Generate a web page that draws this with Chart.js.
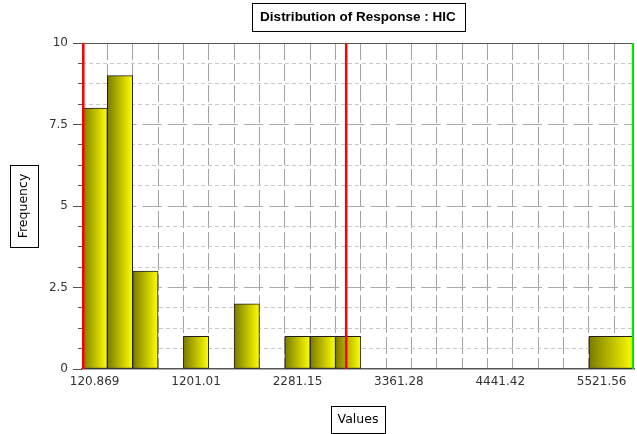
<!DOCTYPE html>
<html>
<head>
<meta charset="utf-8">
<script src="https://cdn.jsdelivr.net/npm/chart.js@4.4.1/dist/chart.umd.min.js"></script>
<style>
html,body{margin:0;padding:0;background:#fff;}
#wrap{width:637px;height:434px;}
</style>
</head>
<body>
<div id="wrap"><canvas id="c" width="637" height="434"></canvas></div>
<script>
// ---- text ----
const chartTitle = 'Distribution of Response : HIC';
const xTitle = 'Values';
const yTitle = 'Frequency';

// ---- histogram bins (value edges) and counts ----
const binLow    = [-14.148, 255.887, 525.921, 1065.990, 1606.059, 2146.128, 2416.163, 2686.197, 5386.542];
const binHigh   = [255.887, 525.921, 795.956, 1336.025, 1876.094, 2416.163, 2686.197, 2956.232, 5866.0];
const frequency = [8, 9, 3, 1, 2, 1, 1, 1, 1];

// ---- axis ----
const xMin = -14.148;
const xMax = 5866.0;
const xTickValues = [120.869, 1201.007, 2281.145, 3361.283, 4441.421, 5521.559];
const xTickLabels = ['120.869', '1201.01', '2281.15', '3361.28', '4441.42', '5521.56'];
const xGridValues = [120.869, 390.904, 660.938, 930.973, 1201.007, 1471.042, 1741.076, 2011.111,
                     2281.145, 2551.180, 2821.214, 3091.249, 3361.283, 3631.318, 3901.352, 4171.387,
                     4441.421, 4711.456, 4981.490, 5251.525, 5521.559];
const yMin = 0, yMax = 10, yStep = 0.625;
const yMajorTicks = [0, 2.5, 5, 7.5, 10];

// ---- reference lines ----
const redLines = [0, 2800];
const greenLines = [5853];

const isMajorY = v => yMajorTicks.some(m => Math.abs(m - v) < 1e-6);

function px(chart, v) { return chart.scales.x.getPixelForValue(v); }

const barDatasets = frequency.map((f, k) => ({
  type: 'bar',
  label: yTitle,
  data: [{x: (binLow[k] + binHigh[k]) / 2, y: f}],
  grouped: false,
  barThickness: ctx => (ctx.chart.chartArea ? px(ctx.chart, binHigh[k]) - px(ctx.chart, binLow[k]) : 25),
  backgroundColor: ctx => {
    const ch = ctx.chart;
    if (!ch.chartArea) return '#cccc00';
    const g = ch.ctx.createLinearGradient(px(ch, binLow[k]), 0, px(ch, binHigh[k]), 0);
    g.addColorStop(0, '#7a7a00');
    g.addColorStop(1, '#ffff00');
    return g;
  },
  borderColor: '#1e1e1e',
  borderWidth: 1,
  borderSkipped: false,
  order: 2
}));

const lineDs = (v, color, w) => ({
  type: 'line',
  data: [{x: v, y: yMin}, {x: v, y: yMax}],
  borderColor: color,
  borderWidth: w,
  pointRadius: 0,
  fill: false,
  order: 0
});

const refDatasets = redLines.map(v => lineDs(v, '#ff0000', 2.5))
  .concat(greenLines.map(v => lineDs(v, '#00ee00', 2)));

const plotBorder = {
  id: 'plotBorder',
  beforeDatasetsDraw(chart) {
    const a = chart.chartArea, ctx = chart.ctx;
    ctx.save();
    ctx.strokeStyle = '#555';
    ctx.lineWidth = 1;
    ctx.strokeRect(Math.round(a.left) + 0.5, Math.round(a.top) + 0.5,
                   Math.round(a.right - a.left) - 1, Math.round(a.bottom - a.top) - 1);
    ctx.restore();
  }
};

const titleBoxes = {
  id: 'titleBoxes',
  afterDraw(chart) {
    const ctx = chart.ctx;
    ctx.save();
    ctx.strokeStyle = '#000';
    ctx.lineWidth = 1;
    const rect = (cx, cy, w, h) => ctx.strokeRect(Math.round(cx - w / 2) + 0.5, Math.round(cy - h / 2) + 0.5, Math.round(w), Math.round(h));
    // main title
    const tb = chart.titleBlock;
    ctx.font = 'bold 13.5px "Liberation Sans"';
    let w = ctx.measureText(chartTitle).width;
    rect((tb.left + tb.right) / 2, tb.top + 8.9 + 8.1, w + 17, 28);
    // x title
    const xs = chart.scales.x;
    ctx.font = '12.5px "DejaVu Sans"';
    w = ctx.measureText(xTitle).width;
    rect((xs.left + xs.right) / 2, xs.bottom - 7 - 7.5, w + 13, 27);
    // y title
    const ys = chart.scales.y;
    w = ctx.measureText(yTitle).width;
    rect(ys.left + 16.5 + 7.5, (ys.top + ys.bottom) / 2, 28, w + 17);
    ctx.restore();
  }
};

new Chart(document.getElementById('c'), {
  type: 'bar',
  data: { datasets: barDatasets.concat(refDatasets) },
  plugins: [plotBorder, titleBoxes],
  options: {
    responsive: false,
    animation: false,
    devicePixelRatio: 1,
    layout: { padding: { left: 0, right: 3, top: 0, bottom: 0 } },
    plugins: {
      legend: { display: false },
      tooltip: { enabled: false },
      title: {
        display: true,
        text: chartTitle,
        fullSize: false,
        color: '#000',
        font: { family: 'Liberation Sans', size: 13.5, weight: 'bold', lineHeight: 1.2 },
        padding: { top: 8.9, bottom: 17.9 }
      }
    },
    scales: {
      x: {
        type: 'linear',
        min: xMin,
        max: xMax,
        offset: false,
        afterBuildTicks: s => { s.ticks = xGridValues.map(v => ({ value: v })); },
        grid: { color: '#a2a2a2', lineWidth: 1, drawTicks: false },
        border: { display: true, color: '#5a5a5a', width: 1.5, dash: [17, 4] },
        ticks: {
          autoSkip: false, maxRotation: 0, minRotation: 0, padding: 6,
          color: '#333',
          font: { family: 'DejaVu Sans', size: 12 },
          callback: v => {
            const i = xTickValues.findIndex(t => Math.abs(t - v) < 0.01);
            return i >= 0 ? xTickLabels[i] : '';
          }
        },
        title: {
          display: true, text: xTitle, color: '#000',
          font: { family: 'DejaVu Sans', size: 12.5, lineHeight: 1.2 },
          padding: { top: 16.6, bottom: 7 }
        }
      },
      y: {
        type: 'linear',
        min: yMin,
        max: yMax,
        grid: {
          color: ctx => {
            const v = ctx.tick ? ctx.tick.value : 1;
            if (v === yMin || v === yMax) return 'rgba(0,0,0,0)';
            return isMajorY(v) ? '#ababab' : '#c8c8c8';
          },
          lineWidth: 1,
          tickLength: 9,
          tickColor: '#555',
          tickBorderDash: ctx => (ctx.tick && isMajorY(ctx.tick.value)) ? [] : [0, 5, 4, 0]
        },
        border: {
          display: false,
          dash: ctx => {
            if (ctx.tick && isMajorY(ctx.tick.value)) {
              const ch = ctx.chart;
              const p = px(ch, xGridValues[1]) - px(ch, xGridValues[0]);
              return [p - 6, 6];
            }
            return [4, 3];
          },
          dashOffset: ctx => {
            if (ctx.tick && isMajorY(ctx.tick.value)) {
              const ch = ctx.chart;
              const p = px(ch, xGridValues[1]) - px(ch, xGridValues[0]);
              const first = px(ch, xGridValues[0]) - ch.chartArea.left - 3;
              return p - first;
            }
            return 0;
          }
        },
        ticks: {
          stepSize: yStep,
          padding: 5,
          color: '#333',
          font: { family: 'DejaVu Sans', size: 12 },
          callback: v => isMajorY(v) ? String(v) : ''
        },
        title: {
          display: true, text: yTitle, color: '#000',
          font: { family: 'DejaVu Sans', size: 12.5, lineHeight: 1.2 },
          padding: { top: 16.5, bottom: 12.4 }
        }
      }
    }
  }
});
</script>
</body>
</html>
